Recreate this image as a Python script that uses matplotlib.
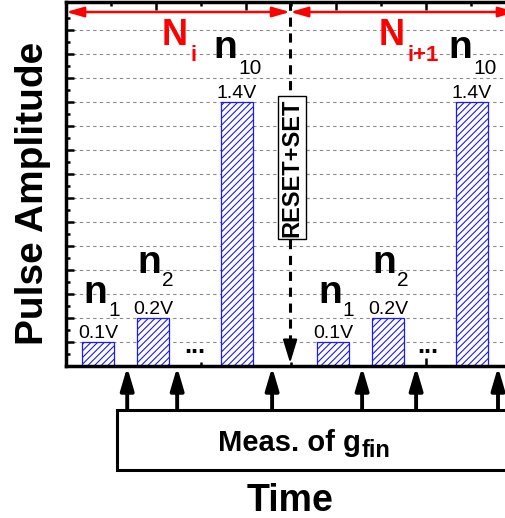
import matplotlib
matplotlib.use('Agg')
import matplotlib.pyplot as plt
from matplotlib.patches import Rectangle
from matplotlib.ticker import MultipleLocator
import numpy as np

plt.rcParams['font.family'] = ['Liberation Sans', 'DejaVu Sans']
plt.rcParams['hatch.linewidth'] = 0.8

# pulse train of one cycle (time in slots), repeated for the next cycle
pulse_amp = [0.1, 0.2, 1.4]          # V
pulse_idx = ['1', '2', '10']
pulse_t = [0.71, 1.94, 3.80]
cycle_shift = 5.22
reset_t = 4.98
meas_t = [1.36, 2.47, 4.58, 6.58, 7.78, 9.60]
dots_t = [2.87, 8.04]
cycle_names = ['i', 'i+1']
cycle_label_t = [2.71, 7.52]


# broken amplitude axis: small pulses stretched, large ones compressed
def amp_fwd(v):
    v = np.asarray(v, dtype=float)
    return np.where(v <= 0.2, v * 10, 2 + (v - 0.2) * 7.5)


def amp_inv(u):
    u = np.asarray(u, dtype=float)
    return np.where(u <= 2, u / 10, 0.2 + (u - 2) / 7.5)


fig = plt.figure(figsize=(5.05, 5.18), dpi=100)
L, B = 66 / 505, 152 / 518
W, H = 474 / 505, 364 / 518
ax = fig.add_axes([L, B, W, H])
ax.set_yscale('function', functions=(amp_fwd, amp_inv))
ax.set_xlim(0, 474 / 45)
ax.set_ylim(0, float(amp_inv(364 / 24)))
ax.set_axisbelow(True)

for sp in ax.spines.values():
    sp.set_linewidth(2.5)

ax.set_yticks(amp_inv(np.arange(0, 15)))
ax.set_yticks(amp_inv(np.arange(0.5, 15, 1)), minor=True)
ax.xaxis.set_major_locator(MultipleLocator(2))
ax.xaxis.set_minor_locator(MultipleLocator(1))
ax.tick_params(which='both', direction='in', width=1.8, labelleft=False, labelbottom=False,
               top=True, bottom=True, left=True, right=False)
ax.tick_params(which='major', length=5.8)
ax.tick_params(which='minor', length=2.9)
ax.yaxis.grid(True, which='major', color='#8a8a8a', lw=0.8, ls=(0, (3, 3)))

# bars of both cycles
n_off = [(9, 39, 26), (7.5, 45, 32), (0, 44, 28)]
for k in range(2):
    xs = [t + k * cycle_shift for t in pulse_t]
    ax.bar(xs, pulse_amp, width=0.71, color='white', edgecolor='#1a1aff', lw=0.9, hatch='/////')
    for x, v, name, (dx, dy1, dy2) in zip(xs, pulse_amp, pulse_idx, n_off):
        ax.annotate(f'{v}V', xy=(x, v), xytext=(0, 4), textcoords='offset pixels',
                    ha='center', va='baseline', fontsize=14)
        ax.annotate('n', xy=(x, v), xytext=(dx, dy1), textcoords='offset pixels',
                    ha='right', va='baseline', fontsize=28, fontweight='bold')
        ax.annotate(name, xy=(x, v), xytext=(dx + 1, dy2), textcoords='offset pixels',
                    ha='left', va='baseline', fontsize=15)

xt = ax.get_xaxis_transform()
for t in dots_t:
    ax.text(t, 0.035, '...', transform=xt, ha='center', va='baseline', fontsize=18, fontweight='bold')

# cycle extents N_i, N_i+1
red_arrow = dict(arrowstyle='<|-|>,head_length=0.7,head_width=0.2', color='red', lw=1.8,
                 shrinkA=0, shrinkB=0, mutation_scale=15)
ax.annotate('', xy=(0, 0.9725), xytext=(reset_t, 0.9725), xycoords=xt, arrowprops=red_arrow)
ax.annotate('', xy=(reset_t, 0.9725), xytext=(10.0, 0.9725), xycoords=xt, arrowprops=red_arrow)
for t, name in zip(cycle_label_t, cycle_names):
    ax.annotate('N', xy=(t, 0.882), xycoords=xt, ha='right', va='baseline',
                fontsize=26, fontweight='bold', color='red')
    ax.annotate(name, xy=(t, 0.882), xycoords=xt, xytext=(3, -16), textcoords='offset pixels',
                ha='left', va='baseline', fontsize=16, fontweight='bold', color='red')

# RESET+SET between cycles
ax.plot([reset_t, reset_t], [0.06, 1.006], transform=xt, clip_on=False, color='k', lw=2.2,
        ls=(0, (3, 2.2)))
ax.annotate('', xy=(reset_t, 0.008), xytext=(reset_t, 0.07), xycoords=xt,
            arrowprops=dict(arrowstyle='-|>,head_length=0.72,head_width=0.22', color='k', lw=1.5,
                            shrinkA=0, shrinkB=0, mutation_scale=20))
ax.text(reset_t + 0.04, 0.545, 'RESET+SET', transform=xt, rotation=90, ha='center', va='center',
        fontsize=17, fontweight='bold', zorder=4,
        bbox=dict(boxstyle='square,pad=0.1', fc='white', ec='black', lw=1))

ax.set_ylabel('Pulse Amplitude', fontsize=28, fontweight='bold')
ax.yaxis.set_label_coords(-0.032, 0.475)
ax.set_xlabel('Time', fontsize=27, fontweight='bold')
ax.xaxis.set_label_coords(0.4726, -0.321)

# measurement strip below the time axis
ax2 = fig.add_axes([L, 0, W, B], sharex=ax)
ax2.set_ylim(152, 0)
ax2.axis('off')
for t in meas_t:
    ax2.annotate('', xy=(t, 1), xytext=(t, 44),
                 arrowprops=dict(arrowstyle='-|>,head_length=0.68,head_width=0.2', color='k', lw=2.8,
                                 shrinkA=0, shrinkB=0, mutation_scale=20))
ax2.add_patch(Rectangle((1.133, 44), 12, 60, fc='white', ec='black', lw=2.2, clip_on=False))
ax2.text(6.556, 85, 'Meas. of g', ha='right', va='baseline', fontsize=21, fontweight='bold')
ax2.text(6.58, 91, 'fin', ha='left', va='baseline', fontsize=17, fontweight='bold')

fig.savefig('out.png', dpi=100)
